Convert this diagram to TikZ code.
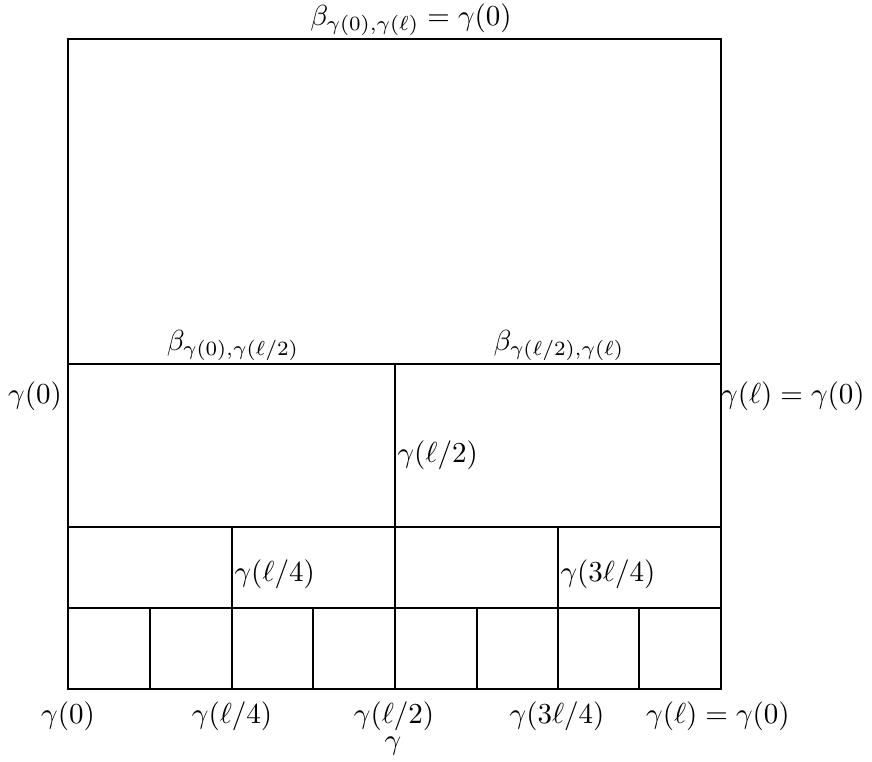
\documentclass[tikz,border=0pt]{standalone}
\begin{document}
\begin{tikzpicture}[x=0.345pt,y=-0.345pt,
  edge/.style={line width=0.6pt},
  lbl/.style={inner sep=0pt}]
\useasboundingbox (0,0) rectangle (872,762);
% corners
\coordinate (tl) at (68,39);
\coordinate (br) at (721,689);
\draw[edge] (tl) rectangle (br);
% horizontal lines
\foreach \y/\n in {364/h1,527/h2,608/h3}{
  \coordinate (\n l) at (68,\y);
  \coordinate (\n r) at (721,\y);
  \draw[edge] (\n l) -- (\n r);
}
% vertical lines
\coordinate (v1t) at (395,364); \coordinate (v1b) at (395,689);
\draw[edge] (v1t) -- (v1b);
\foreach \x/\n in {232/v2,558/v3}{
  \coordinate (\n t) at (\x,527); \coordinate (\n b) at (\x,689);
  \draw[edge] (\n t) -- (\n b);
}
\foreach \x/\n in {150/v4,313/v5,477/v6,639/v7}{
  \coordinate (\n t) at (\x,608); \coordinate (\n b) at (\x,689);
  \draw[edge] (\n t) -- (\n b);
}
% labels
\node[lbl] (ltop) at (411,20) {$\beta_{\gamma(0),\gamma(\ell)} = \gamma(0)$};
\node[lbl,anchor=south] (lbl1) at (233,361) {$\beta_{\gamma(0),\gamma(\ell/2)}$};
\node[lbl,anchor=south] (lbl2) at (559,361) {$\beta_{\gamma(\ell/2),\gamma(\ell)}$};
\node[lbl] (lleft) at (35,396) {$\gamma(0)$};
\node[lbl] (lright) at (793,396) {$\gamma(\ell) = \gamma(0)$};
\node[lbl,anchor=west] (lhalf) at (397,455) {$\gamma(\ell/2)$};
\node[lbl,anchor=west] (lq1) at (234,574) {$\gamma(\ell/4)$};
\node[lbl,anchor=west] (lq3) at (560,574) {$\gamma(3\ell/4)$};
\node[lbl] (b0) at (68,716) {$\gamma(0)$};
\node[lbl] (b1) at (232,716) {$\gamma(\ell/4)$};
\node[lbl] (b2) at (394,716) {$\gamma(\ell/2)$};
\node[lbl] (b3) at (557,716) {$\gamma(3\ell/4)$};
\node[lbl] (b4) at (718,716) {$\gamma(\ell) = \gamma(0)$};
\node[lbl] (bg) at (393,746) {$\gamma$};
\end{tikzpicture}
\end{document}
